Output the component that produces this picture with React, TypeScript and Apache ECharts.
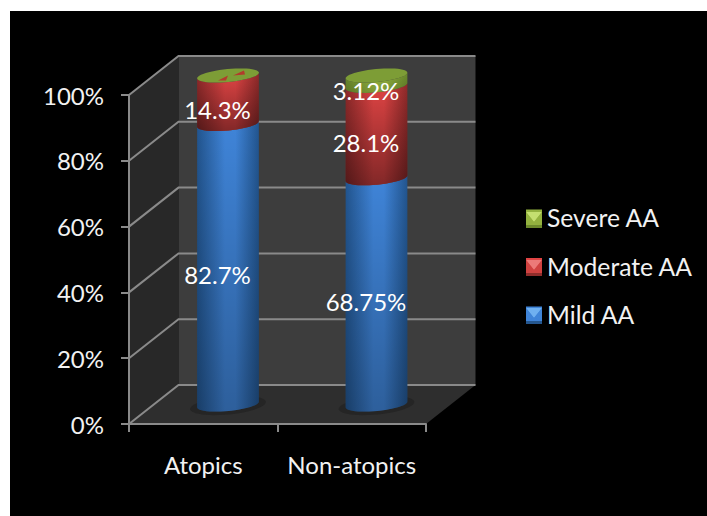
import React, { useEffect, useRef } from "react";
import * as echarts from "echarts";

const categories = ["Atopics", "Non-atopics"];
const mildAA = [82.7, 68.75];
const moderateAA = [14.3, 28.1];
const severeAA = [0, 3.12];
const yTicks = [0, 20, 40, 60, 80, 100];

const FONT = "Lato";
const DEPTH_X = 49.5;
const DEPTH_Y = -39;
const BAR_RX = 31;
const BAR_RY = 6.5;
const TILT = (-5.5 * Math.PI) / 180;

type Tone = { edge: string; mid: string; shade: number };
const BLUE: Tone = { edge: "#22558f", mid: "#3f84d8", shade: 0.28 };
const RED: Tone = { edge: "#8f2a2a", mid: "#e04444", shade: 0.42 };
const GREEN: Tone = { edge: "#6a8a2c", mid: "#93b23f", shade: 0.15 };

// Point on the tilted ellipse of a cylinder slice; t runs along the circumference.
function rimPoint(cx: number, cy: number, t: number, rx = BAR_RX, ry = BAR_RY) {
  const a = rx * Math.cos(t);
  const b = ry * Math.sin(t);
  return [cx + a * Math.cos(TILT) - b * Math.sin(TILT), cy + a * Math.sin(TILT) + b * Math.cos(TILT)];
}

function ellipsePoints(cx: number, cy: number, rx = BAR_RX, ry = BAR_RY) {
  const pts: number[][] = [];
  for (let i = 0; i < 48; i++) pts.push(rimPoint(cx, cy, (i / 48) * Math.PI * 2, rx, ry));
  return pts;
}

// Outline of a cylinder slice: lower front arc, then upper front arc back.
function slicePoints(cx: number, yBottom: number, yTop: number) {
  const pts: number[][] = [];
  for (let i = 0; i <= 24; i++) pts.push(rimPoint(cx, yBottom, Math.PI - (i / 24) * Math.PI));
  for (let i = 0; i <= 24; i++) pts.push(rimPoint(cx, yTop, (i / 24) * Math.PI));
  return pts;
}

const sideFill = (t: Tone) =>
  new echarts.graphic.LinearGradient(0, 0, 1, 0, [
    { offset: 0, color: t.edge },
    { offset: 0.45, color: t.mid },
    { offset: 0.62, color: t.mid },
    { offset: 1, color: t.edge },
  ]);

const shadeFill = (alpha: number) =>
  new echarts.graphic.LinearGradient(0, 0, 0, 1, [
    { offset: 0, color: "rgba(0,0,0,0)" },
    { offset: 1, color: `rgba(0,0,0,${alpha})` },
  ]);

// Each column is a 100% stack, so every slice is its share of the column total.
const totals = categories.map((_, i) => mildAA[i] + moderateAA[i] + severeAA[i]);

function stackData(values: number[], below: number[][]) {
  return values.map((v, i) => {
    const base = below.reduce((sum, s) => sum + s[i], 0);
    return [i, (base / totals[i]) * 100, ((base + v) / totals[i]) * 100, v];
  });
}

function sliceSeries(name: string, values: number[], below: number[][], tone: Tone, capped: boolean) {
  return {
    name,
    type: "custom",
    z: 3,
    itemStyle: { color: tone.mid },
    encode: { x: 0, y: [1, 2] },
    data: stackData(values, below),
    renderItem: (_params: any, api: any) => {
      const cat = api.value(0);
      const p0 = api.coord([cat, api.value(1)]);
      const p1 = api.coord([cat, api.value(2)]);
      const value = api.value(3);
      const cx = p0[0] + DEPTH_X / 2;
      const yb = p0[1] + DEPTH_Y / 2;
      const yt = p1[1] + DEPTH_Y / 2;
      const children: any[] = [];
      if (value > 0) {
        const pts = slicePoints(cx, yb, yt);
        children.push({ type: "polygon", shape: { points: pts }, style: { fill: sideFill(tone) } });
        children.push({ type: "polygon", shape: { points: pts }, style: { fill: shadeFill(tone.shade) } });
      }
      if (capped) {
        children.push({
          type: "polygon",
          shape: { points: ellipsePoints(cx, yt) },
          style: { fill: "#7d9d36" },
        });
        if (value === 0) {
          // The empty top slice leaves red flecks showing through the cap.
          [
            [[5, 0], [16, -5], [17, -1]],
            [[-10, 5], [0, 0], [-2, 5]],
          ].forEach((tri) =>
            children.push({
              type: "polygon",
              shape: { points: tri.map(([dx, dy]) => [cx + dx, yt + dy]) },
              style: { fill: "#b23b2c" },
            })
          );
        }
      }
      if (value > 0) {
        children.push({
          type: "text",
          z2: 100,
          style: {
            text: `${value}%`,
            x: cx - 10.5,
            y: (yb + yt) / 2 + 10,
            fill: "#ffffff",
            fontFamily: FONT,
            fontSize: 24,
            textAlign: "center",
            textVerticalAlign: "middle",
          },
        });
      }
      return { type: "group", children };
    },
  };
}

// Side wall, back wall and floor of the 3D box, with the contact shadows of the columns.
const boxSeries = {
  name: "box",
  type: "custom",
  z: 1,
  silent: true,
  encode: { x: 0, y: 1 },
  data: [[0, 0]],
  renderItem: (params: any, api: any) => {
    const { x, y, width, height } = params.coordSys;
    const b = y + height;
    const r = x + width;
    const children: any[] = [
      {
        type: "polygon",
        shape: { points: [[x, b], [x + DEPTH_X, b + DEPTH_Y], [x + DEPTH_X, y + DEPTH_Y], [x, y]] },
        style: { fill: "#282828" },
      },
      {
        type: "polygon",
        shape: { points: [[x + DEPTH_X, b + DEPTH_Y], [r + DEPTH_X, b + DEPTH_Y], [r + DEPTH_X, y + DEPTH_Y], [x + DEPTH_X, y + DEPTH_Y]] },
        style: { fill: "#3d3d3d" },
      },
      {
        type: "polygon",
        shape: { points: [[x, b], [r, b], [r + DEPTH_X, b + DEPTH_Y], [x + DEPTH_X, b + DEPTH_Y]] },
        style: { fill: "#2e2e2e" },
      },
    ];
    categories.forEach((_, i) => {
      const p = api.coord([i, 0]);
      children.push({
        type: "polygon",
        shape: { points: ellipsePoints(p[0] + DEPTH_X / 2, p[1] + DEPTH_Y / 2 + 1, BAR_RX + 7, BAR_RY + 2.5) },
        style: { fill: "#252525" },
      });
    });
    return { type: "group", children };
  },
};

// Gridlines run along the side wall and across the back wall.
const gridSeries = {
  name: "walls",
  type: "custom",
  z: 2,
  silent: true,
  encode: { x: 0, y: 1 },
  data: yTicks.map((t) => [0, t]),
  renderItem: (params: any, api: any) => {
    const { x, width } = params.coordSys;
    const py = api.coord([0, api.value(1)])[1];
    const stroke = { stroke: "#8a8a8a", lineWidth: 2, fill: "none" };
    return {
      type: "group",
      children: [
        { type: "polyline", shape: { points: [[x, py], [x + DEPTH_X, py + DEPTH_Y], [x + width + DEPTH_X, py + DEPTH_Y]] }, style: stroke },
      ],
    };
  },
};

// Bevelled legend swatches: lit top, dark lower band, mid-tone sides.
function swatch(x: number, y: number, top: string, side: string, bottom: string) {
  const s = 16;
  const c = [x + s / 2, y + s / 2 + 2];
  const tri = (a: number[], b: number[], fill: string) => ({
    type: "polygon",
    z: 50,
    silent: true,
    shape: { points: [a, b, c] },
    style: { fill },
  });
  return [
    tri([x, y], [x + s, y], top),
    tri([x + s, y], [x + s, y + s - 3], side),
    tri([x, y + s - 3], [x, y], side),
    tri([x + s, y + s - 3], [x, y + s - 3], side),
    {
      type: "rect",
      z: 50,
      silent: true,
      shape: { x, y: y + s - 3, width: s, height: 3 },
      style: { fill: bottom },
    },
  ];
}

export default function App() {
  const ref = useRef<HTMLDivElement>(null);

  useEffect(() => {
    const chart = echarts.init(ref.current!, null, { renderer: "svg" });
    chart.setOption({
      animation: false,
      backgroundColor: "#ffffff",
      textStyle: { fontFamily: FONT },
      grid: { left: 129, right: 281, top: 95, bottom: 92, containLabel: false },
      xAxis: {
        type: "category",
        data: categories,
        z: 5,
        axisLine: { lineStyle: { color: "#8a8a8a", width: 2 } },
        axisTick: { show: true, alignWithLabel: false, length: 8, lineStyle: { color: "#8a8a8a", width: 2 } },
        axisLabel: { color: "#f2f2f2", fontSize: 24, fontFamily: FONT, margin: 28, interval: 0, hideOverlap: false },
        splitLine: { show: false },
      },
      yAxis: {
        type: "value",
        min: 0,
        max: 100,
        interval: 20,
        z: 5,
        axisLine: { show: true, lineStyle: { color: "#8a8a8a", width: 2 } },
        axisTick: { show: true, length: 8, lineStyle: { color: "#8a8a8a", width: 2 } },
        axisLabel: { color: "#f2f2f2", fontSize: 24, fontFamily: FONT, margin: 25, formatter: "{value}%" },
        splitLine: { show: false },
      },
      legend: {
        orient: "vertical",
        left: 526,
        top: 205,
        padding: 0,
        itemWidth: 16,
        itemHeight: 16,
        itemGap: 23.5,
        selectedMode: false,
        icon: "rect",
        data: ["Severe AA", "Moderate AA", "Mild AA"],
        textStyle: { color: "#f2f2f2", fontSize: 24.7, fontFamily: FONT },
      },
      graphic: [
        { type: "rect", z: -10, silent: true, shape: { x: 10, y: 11, width: 697, height: 505 }, style: { fill: "#000000" } },
        ...swatch(526, 212, "#c4df70", "#93b23f", "#6d8a2c"),
        ...swatch(526, 260, "#ec7a78", "#cf4240", "#8f2d2b"),
        ...swatch(526, 308, "#6fb0f0", "#3f84d8", "#25578f"),
      ],
      series: [
        boxSeries,
        gridSeries,
        sliceSeries("Mild AA", mildAA, [], BLUE, false),
        sliceSeries("Moderate AA", moderateAA, [mildAA], RED, false),
        sliceSeries("Severe AA", severeAA, [mildAA, moderateAA], GREEN, true),
      ],
    });
    return () => chart.dispose();
  }, []);

  return <div ref={ref} style={{ position: "absolute", left: 0, top: 0, width: 707, height: 516 }} />;
}
